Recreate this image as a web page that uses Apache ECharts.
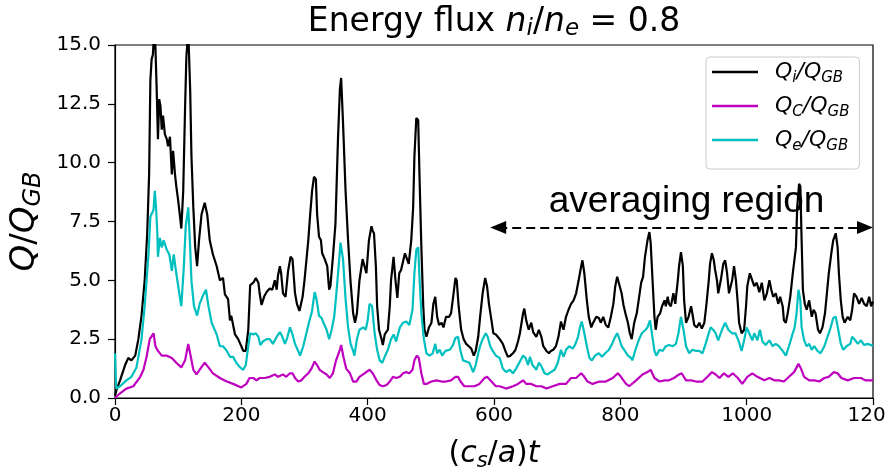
<!DOCTYPE html>
<html>
<head>
<meta charset="utf-8">
<script src="https://cdn.jsdelivr.net/npm/echarts@6/dist/echarts.min.js"></script>
<style>
  html, body { margin: 0; padding: 0; background: #fff; }
  #chart { width: 885px; height: 476px; }
</style>
</head>
<body>
<div id="chart"></div>
<script>
// Heat flux time traces, normalised to gyro-Bohm: [ (c_s/a) t , Q / Q_GB ]
const qiData = [
  [0,0.1],[3,0.4],[8,0.75],[16,1.4],[21,1.7],[26,1.6],[32,1.8],[37,2.5],[42,3.5],[47,5.0],[51,7.0],[54,9.5],[56,13.5],[58,14.4],[60,14.6],[62,15.6],[64,14.9],[66,13.1],[68,11.0],[70,12.7],[72,12.4],[74,11.4],[76,12.0],[79,11.2],[82,11.0],[84,10.7],[87,11.1],[90,9.5],[92,10.5],[95,9.5],[97,9.0],[100,8.4],[103,7.7],[105,7.2],[108,8.8],[111,12.4],[113,14.5],[116,15.6],[119,13.1],[121,10.3],[124,8.1],[127,6.4],[130,5.6],[133,6.7],[137,7.8],[142,8.3],[146,7.8],[150,6.7],[155,6.1],[161,5.6],[166,5.0],[171,5.1],[174,4.4],[179,4.2],[182,3.3],[184,3.5],[190,2.7],[195,2.5],[200,2.2],
  [203,2.0],[207,2.0],[211,2.9],[214,4.8],[219,4.9],[223,5.1],[227,4.9],[229,4.45],[232,3.95],[236,4.3],[240,4.5],[245,4.65],[249,4.6],[253,5.0],[256,4.6],[258,5.2],[261,5.6],[263,5.3],[266,4.45],[270,4.3],[274,5.4],[278,6.0],[281,5.9],[285,4.45],[288,4.0],[292,3.7],[297,4.3],[300,5.0],[306,6.7],[309,7.8],[312,8.8],[315,9.4],[318,9.3],[320,7.8],[323,6.85],[326,6.7],[328,6.15],[332,5.9],[336,5.6],[339,4.6],[341,4.75],[345,6.0],[349,7.4],[353,11.0],[356,13.1],[358,13.6],[361,11.7],[365,8.8],[369,6.7],[373,4.9],[377,3.6],[380,3.2],[383,3.6],[387,5.0],[392,5.9],[395,5.9],[398,5.3],[402,6.7],[406,7.3],[408,7.1],
  [410,7.0],[413,5.6],[415,3.9],[418,2.9],[422,2.5],[424,2.25],[427,2.7],[430,2.75],[432,2.9],[435,3.9],[437,5.0],[441,6.0],[444,5.0],[447,4.25],[450,5.3],[453,5.45],[456,5.45],[459,6.15],[461,6.15],[465,5.7],[469,6.7],[472,8.1],[474,10.25],[477,11.9],[480,11.8],[482,9.5],[485,6.4],[488,3.9],[490,2.9],[493,2.6],[497,3.0],[501,3.2],[504,4.0],[507,4.3],[510,3.45],[513,3.1],[517,3.2],[520,3.0],[524,3.45],[529,3.45],[532,3.6],[536,4.45],[539,5.1],[541,5.0],[544,3.9],[548,2.9],[552,2.5],[556,2.3],[560,2.2],[564,2.1],[568,1.8],[571,2.0],[575,2.6],[578,3.45],[582,4.45],[586,5.1],[589,4.75],[592,4.0],[596,3.3],[599,2.75],[603,2.7],
  [609,2.5],[614,2.3],[618,2.0],[622,1.75],[626,1.8],[630,1.9],[634,2.05],[638,2.4],[641,2.75],[646,3.6],[648,3.8],[651,3.3],[655,2.9],[659,3.2],[662,2.8],[667,2.6],[671,2.9],[675,2.6],[678,2.2],[683,2.0],[687,1.9],[690,2.0],[694,2.05],[698,2.2],[702,2.6],[706,3.25],[710,2.9],[714,3.45],[718,3.75],[722,4.0],[726,4.15],[730,4.45],[734,5.0],[738,5.6],[740,5.85],[743,5.3],[747,4.15],[750,3.45],[754,3.0],[757,3.2],[762,3.45],[766,3.4],[769,3.2],[773,3.45],[777,3.1],[781,3.0],[785,3.45],[789,4.0],[792,4.75],[795,5.15],[798,5.1],[802,4.45],[805,3.95],[808,3.6],[812,3.2],[815,2.75],[818,2.5],
  [822,3.2],[826,3.6],[829,4.15],[833,4.9],[836,5.15],[839,6.0],[843,6.7],[846,7.05],[848,6.6],[851,5.0],[854,3.45],[856,2.9],[859,3.45],[863,3.6],[866,3.9],[870,4.15],[872,3.9],[875,4.3],[877,4.0],[880,3.9],[884,4.45],[887,4.0],[891,5.0],[893,5.6],[896,6.2],[899,5.6],[901,4.15],[904,3.2],[908,3.45],[912,3.9],[914,3.6],[917,3.1],[921,3.0],[925,3.2],[929,2.95],[933,3.2],[936,3.9],[940,5.0],[942,5.7],[945,6.15],[948,5.85],[950,5.45],[953,5.0],[955,4.45],[959,5.0],[963,5.7],[966,5.85],[969,5.3],[972,4.45],[977,5.0],[980,5.6],[983,5.0],[986,4.0],[988,3.2],[992,2.75],[996,2.9],[999,3.9],[1001,4.75],[1005,5.3],[1008,5.3],
  [1012,4.75],[1016,4.9],[1020,4.5],[1024,4.9],[1028,4.15],[1032,4.45],[1036,5.0],[1039,4.6],[1042,4.3],[1046,4.45],[1050,4.0],[1053,4.3],[1057,3.9],[1059,3.3],[1062,3.2],[1065,3.6],[1069,4.3],[1073,5.3],[1075,5.3],[1078,6.4],[1080,8.1],[1083,9.1],[1085,9.0],[1087,6.7],[1089,4.6],[1092,4.0],[1095,3.75],[1099,4.15],[1103,3.45],[1106,3.75],[1109,3.6],[1113,2.9],[1116,2.75],[1120,3.0],[1124,3.6],[1127,4.45],[1130,5.3],[1134,6.15],[1137,6.7],[1141,7.0],[1144,6.4],[1146,5.3],[1149,4.15],[1152,3.45],[1155,3.2],[1160,3.45],[1164,3.3],[1167,3.75],[1170,4.45],[1174,4.3],[1178,4.0],[1182,4.25],[1186,4.0],[1190,3.9],[1194,4.3],[1197,3.9],[1200,4.1]
];

const qcData = [
  [0,0.0],[8,0.2],[18,0.4],[29,0.5],[40,0.9],[45,1.2],[50,1.75],[55,2.5],[61,2.75],[64,2.2],[68,2.0],[74,1.8],[82,1.8],[90,1.7],[97,1.5],[105,1.3],[111,1.6],[116,2.3],[120,1.75],[124,1.2],[129,1.0],[134,1.2],[142,1.5],[148,1.3],[155,1.05],[166,0.85],[177,0.7],[187,0.6],[200,0.45],
  [203,0.4],[208,0.6],[213,0.85],[219,0.85],[224,0.75],[229,0.85],[237,0.85],[245,0.9],[253,1.0],[258,0.9],[266,1.0],[271,0.9],[277,1.05],[281,1.05],[285,0.85],[290,0.7],[295,0.75],[300,0.9],[306,1.05],[311,1.25],[316,1.55],[320,1.4],[324,1.2],[329,1.1],[335,1.0],[340,0.85],[345,1.05],[350,1.6],[356,2.05],[358,2.25],[362,1.7],[366,1.25],[372,1.05],[377,0.7],[382,0.7],[387,0.9],[395,1.05],[403,1.2],
  [408,1.05],[414,0.75],[419,0.55],[424,0.5],[430,0.55],[435,0.7],[440,0.9],[445,0.85],[451,0.9],[456,1.05],[461,1.1],[466,1.05],[471,1.2],[474,1.6],[478,1.8],[481,1.7],[485,1.05],[489,0.6],[493,0.6],[501,0.7],[509,0.75],[517,0.7],[524,0.7],[532,0.75],[539,0.9],[543,0.9],[547,0.7],[553,0.5],[561,0.5],[569,0.5],[577,0.6],[585,0.85],[589,0.9],[596,0.7],[603,0.5],
  [609,0.5],[619,0.4],[630,0.5],[638,0.6],[646,0.75],[651,0.6],[659,0.6],[667,0.5],[675,0.5],[683,0.4],[693,0.5],[704,0.6],[714,0.6],[722,0.85],[730,0.85],[738,1.05],[743,0.9],[748,0.7],[756,0.6],[767,0.7],[777,0.7],[788,0.85],[796,1.05],[801,0.9],[809,0.6],[814,0.5],
  [825,0.75],[835,1.0],[843,1.1],[848,1.2],[854,0.85],[862,0.7],[870,0.75],[877,0.75],[885,0.85],[893,1.0],[897,1.05],[904,0.75],[912,0.75],[920,0.7],[930,0.7],[938,0.9],[945,1.1],[951,1.0],[957,0.85],[964,1.05],[971,0.9],[978,1.05],[986,0.85],[993,0.6],[1001,0.9],[1009,1.05],
  [1017,0.9],[1028,0.75],[1036,0.85],[1044,0.75],[1051,0.75],[1059,0.7],[1067,0.9],[1075,1.1],[1082,1.45],[1086,1.25],[1091,0.9],[1099,0.75],[1107,0.75],[1115,0.7],[1123,0.85],[1130,0.9],[1138,1.1],[1144,1.05],[1150,0.85],[1160,0.75],[1170,0.85],[1181,0.85],[1188,0.75],[1200,0.75]
];

const qeData = [
  [0,1.9],[2,0.4],[8,0.5],[18,0.75],[26,0.9],[34,1.3],[42,2.5],[47,3.9],[53,6.1],[56,7.7],[61,8.0],[63,8.8],[65,8.1],[67,7.0],[68,6.0],[71,6.8],[74,6.4],[77,6.7],[82,6.3],[86,6.1],[90,5.4],[93,6.1],[97,5.3],[102,4.4],[105,3.9],[109,5.6],[112,7.3],[116,8.1],[119,6.4],[121,5.0],[125,3.9],[130,3.5],[134,4.0],[140,4.4],[144,4.6],[148,3.9],[153,3.2],[161,2.7],[166,2.2],[171,2.2],[177,2.0],[182,1.75],[187,1.75],[192,1.5],[198,1.3],
  [203,1.2],[207,1.4],[211,2.2],[214,2.75],[219,2.7],[223,2.75],[227,2.6],[230,2.25],[234,2.4],[240,2.5],[245,2.5],[250,2.3],[256,2.6],[261,2.8],[265,2.6],[269,2.3],[272,2.5],[277,3.0],[281,2.7],[285,2.3],[290,2.0],[293,1.8],[298,2.2],[303,2.75],[308,3.3],[312,3.7],[316,4.5],[319,4.2],[323,3.5],[327,3.4],[330,3.2],[335,2.9],[339,2.5],[343,2.9],[347,3.45],[350,4.3],[355,5.9],[357,6.6],[361,5.9],[365,4.2],[369,3.0],[373,2.3],[377,2.0],[379,1.8],[383,2.5],[387,2.9],[393,3.0],[397,2.9],[400,3.3],
  [403,4.0],[407,3.9],[411,2.75],[415,2.05],[419,1.6],[423,1.5],[427,1.75],[432,2.05],[437,2.5],[441,2.7],[445,2.4],[451,3.0],[456,3.2],[461,3.25],[466,3.1],[471,3.75],[474,5.3],[477,6.3],[480,6.4],[482,5.15],[485,3.6],[489,2.5],[493,1.9],[498,1.8],[503,1.9],[507,2.3],[510,1.9],[514,2.05],[518,1.8],[523,2.0],[530,2.05],[535,2.25],[539,2.55],[543,2.6],[547,2.0],[551,1.6],[556,1.55],[561,1.5],[567,1.1],[571,1.4],[575,1.9],[578,2.2],[582,2.5],[587,2.75],[590,2.6],[594,2.2],[598,2.0],[603,1.8],
  [609,1.7],[614,1.25],[619,1.1],[625,1.2],[630,1.05],[635,1.25],[640,1.5],[646,1.8],[650,1.7],[654,1.4],[657,1.75],[661,1.4],[667,1.2],[671,1.5],[675,1.35],[680,1.05],[685,1.0],[690,1.1],[696,1.2],[701,1.5],[706,2.05],[710,1.75],[714,2.05],[719,2.2],[725,2.1],[729,2.3],[733,2.6],[736,3.0],[739,3.25],[743,2.75],[747,2.2],[751,1.7],[755,1.6],[760,1.8],[766,1.9],[771,1.75],[776,1.9],[782,2.05],[787,2.3],[791,2.55],[795,2.75],[798,2.55],[802,2.2],[806,2.05],[812,1.8],[817,1.7],
  [819,1.6],[824,2.05],[829,2.45],[834,2.75],[840,2.9],[843,3.0],[847,3.3],[850,2.75],[854,2.0],[857,1.8],[862,2.05],[867,2.0],[872,2.2],[877,2.25],[883,2.2],[888,2.3],[892,2.75],[896,3.45],[900,2.9],[904,2.2],[909,1.9],[914,2.05],[920,2.0],[925,2.0],[930,1.9],[935,2.3],[940,2.75],[943,3.0],[947,2.9],[951,2.75],[955,2.45],[961,2.9],[966,3.2],[971,2.9],[977,2.75],[982,2.75],[987,2.45],[992,2.0],[996,2.45],[1000,3.0],[1004,2.75],[1009,2.45],
  [1012,2.75],[1017,2.45],[1021,2.9],[1025,2.4],[1030,2.25],[1036,2.45],[1041,2.2],[1046,2.3],[1051,2.2],[1057,2.0],[1062,1.8],[1067,2.2],[1073,2.75],[1076,3.0],[1079,3.6],[1082,4.6],[1085,4.15],[1087,3.0],[1091,2.45],[1095,2.2],[1099,2.3],[1103,2.05],[1107,2.2],[1112,2.0],[1117,1.9],[1123,2.2],[1128,2.6],[1133,3.0],[1137,3.4],[1141,3.45],[1145,2.9],[1149,2.3],[1153,2.05],[1158,2.2],[1164,2.3],[1167,2.6],[1172,2.45],[1176,2.3],[1181,2.45],[1186,2.25],[1191,2.3],[1197,2.25],[1200,2.2]
];

// Axis ranges and ticks
const xTicks = { min: 0, max: 1200, step: 200 };
const yTicks = { min: 0, max: 15, step: 2.5 };

// Time window used for the time average
const averagingWindow = [594, 1200];
const averagingLevel = 7.25;

const seriesNames = ['Qi', 'Qc', 'Qe'];
const seriesColors = ['#000000', '#bf00bf', '#00bfbf'];
const legendLabels = {
  Qi: '{q|Q}{s|i}{q|/Q}{s|GB}',
  Qc: '{q|Q}{s|C}{q|/Q}{s|GB}',
  Qe: '{q|Q}{s|e}{q|/Q}{s|GB}'
};

const FONT = 'DejaVu Sans';
const mathRich = (size, subSize, lh) => ({
  q: { fontFamily: FONT, fontStyle: 'italic', fontSize: size, lineHeight: lh, color: '#000' },
  r: { fontFamily: FONT, fontSize: size, lineHeight: lh, color: '#000' },
  s: { fontFamily: FONT, fontStyle: 'italic', fontSize: subSize, lineHeight: subSize, verticalAlign: 'bottom', color: '#000' }
});

// plot box in pixels
const GRID = { left: 115, right: 12, top: 45, bottom: 78 };
const CHART_W = 885;

// arrowheads are drawn centred on the line ends; pull the ends in by half a head so the tips land on the window edges
const ARROW_LEN = 16;
const unitsPerPx = (xTicks.max - xTicks.min) / (CHART_W - GRID.left - GRID.right);
const arrowInset = (ARROW_LEN / 2) * unitsPerPx;

const chart = echarts.init(document.getElementById('chart'), null, { renderer: 'canvas' });

const lineSeries = (name, data, color, z) => ({
  name, type: 'line', data,
  showSymbol: false, symbol: 'none',
  lineStyle: { color, width: 2.2 },
  itemStyle: { color },
  clip: true, z,
  emphasis: { disabled: true },
  animation: false
});

const qiSeries = lineSeries('Qi', qiData, seriesColors[0], 2);
qiSeries.markLine = {
  silent: true,
  animation: false,
  symbol: ['triangle', 'triangle'],
  symbolSize: [13, ARROW_LEN],
  lineStyle: { color: '#000', width: 2, type: [9, 5] },
  label: {
    show: true, position: 'middle', distance: 7,
    formatter: 'averaging region',
    fontFamily: 'Liberation Sans', fontSize: 37, color: '#000',
    offset: [5, 0]
  },
  data: [[
    { coord: [averagingWindow[0] + arrowInset, averagingLevel] },
    { coord: [averagingWindow[1] - arrowInset, averagingLevel] }
  ]]
};

chart.setOption({
  animation: false,
  backgroundColor: '#fff',
  grid: {
    left: GRID.left, right: GRID.right, top: GRID.top, bottom: GRID.bottom,
    containLabel: false, outerBoundsMode: 'none',
    show: true, borderColor: '#000', borderWidth: 1.2, backgroundColor: '#fff'
  },
  graphic: [{
    type: 'text', x: 494, y: 22,
    style: {
      text: '{r|Energy flux }{q|n}{s|i}{r|/}{q|n}{s|e}{r| = 0.8}',
      align: 'center', verticalAlign: 'middle',
      rich: mathRich(33, 23, 38)
    }
  }],
  legend: {
    orient: 'vertical',
    left: 706, top: 57,
    data: seriesNames,
    icon: 'rect',
    itemWidth: 46, itemHeight: 2.5,
    itemGap: 9,
    padding: [4, 10, 15, 6],
    backgroundColor: 'rgba(255,255,255,0.8)',
    borderColor: '#cccccc', borderWidth: 1, borderRadius: 4,
    selectedMode: false,
    formatter: n => legendLabels[n],
    textStyle: { padding: [0, 0, 0, 12], rich: mathRich(22, 15, 28) }
  },
  xAxis: {
    type: 'value', min: xTicks.min, max: xTicks.max, interval: xTicks.step,
    axisLine: { show: true, onZero: false, lineStyle: { color: '#000', width: 1.2 } },
    axisTick: { show: true, length: 7, lineStyle: { color: '#000', width: 1.2 } },
    axisLabel: { fontFamily: FONT, fontSize: 20, color: '#000', margin: 8, formatter: v => String(v), hideOverlap: false },
    splitLine: { show: false },
    name: '{r|(}{q|c}{s|s}{r|/}{q|a}{r|)}{q|t}',
    nameLocation: 'middle', nameGap: 38,
    nameTextStyle: { rich: mathRich(30, 21, 36) }
  },
  yAxis: {
    type: 'value', min: yTicks.min, max: yTicks.max, interval: yTicks.step,
    axisLine: { show: true, onZero: false, lineStyle: { color: '#000', width: 1.2 } },
    axisTick: { show: true, length: 7, lineStyle: { color: '#000', width: 1.2 } },
    axisLabel: { fontFamily: FONT, fontSize: 20, color: '#000', margin: 14, formatter: v => v.toFixed(1) },
    splitLine: { show: false },
    name: '{q|Q}{r|/}{q|Q}{s|GB}',
    nameLocation: 'middle', nameGap: 59, nameRotate: 90,
    nameTextStyle: { rich: mathRich(34, 24, 40) }
  },
  series: [
    qiSeries,
    lineSeries('Qc', qcData, seriesColors[1], 3),
    lineSeries('Qe', qeData, seriesColors[2], 4)
  ]
});
</script>
</body>
</html>
